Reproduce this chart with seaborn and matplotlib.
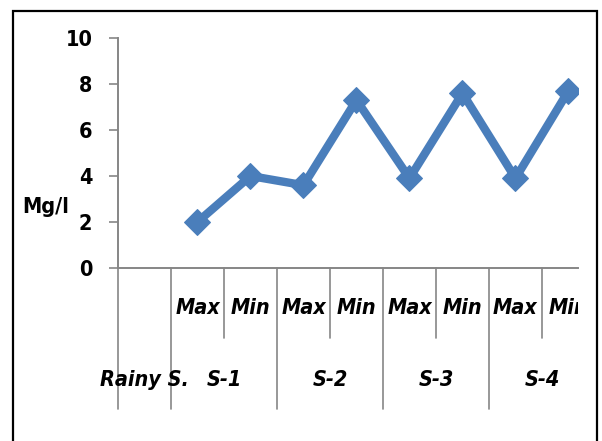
import numpy as np
import pandas as pd
import matplotlib
matplotlib.use("Agg")
import matplotlib.pyplot as plt
from matplotlib.patches import Rectangle
import seaborn as sns

# data
sub_labels = ["", "Max", "Min", "Max", "Min", "Max", "Min", "Max", "Min"]
group_labels = ["Rainy S.", "S-1", "S-2", "S-3", "S-4"]
group_spans = [(0, 0), (1, 2), (3, 4), (5, 6), (7, 8)]
values = [np.nan, 2.0, 4.0, 3.6, 7.3, 3.9, 7.6, 3.9, 7.7]

df = pd.DataFrame({"pos": np.arange(len(sub_labels)), "value": values})

sns.set_style("white")
plt.rcParams["font.family"] = ["Liberation Sans Narrow", "DejaVu Sans"]
plt.rcParams["font.stretch"] = "condensed"
plt.rcParams["text.color"] = "black"
plt.rcParams["ytick.labelcolor"] = "black"

fig = plt.figure(figsize=(6.02, 4.41), dpi=100)
ax = fig.add_axes([118 / 602, 1 - 268 / 441, 460 / 602, 230 / 441])

blue = "#4a7ebb"
grey = "#868686"
fs = 15.5

sns.lineplot(data=df, x="pos", y="value", ax=ax, color=blue, linewidth=6,
             marker="D", markersize=13.5, markeredgecolor=blue)

ax.set_xlim(-0.5, 8.18)
ax.set_ylim(0, 10)
ax.set_yticks([0, 2, 4, 6, 8, 10])
ax.set_xticks([])
ax.set_xlabel("")
ax.set_ylabel("")
ax.tick_params(axis="y", length=6.5, width=1.2, color=grey, pad=12,
               labelsize=fs, labelcolor="black", left=True)
for t in ax.get_yticklabels():
    t.set_fontweight("bold")

for side in ["top", "right"]:
    ax.spines[side].set_visible(False)
for side in ["left", "bottom"]:
    ax.spines[side].set_color(grey)
    ax.spines[side].set_linewidth(1.4)

# multi-level category axis
trans = ax.get_xaxis_transform()
clip = Rectangle((0, -1), 1, 2, transform=ax.transAxes, visible=False)
ax.add_patch(clip)
for i, lab in enumerate(sub_labels):
    if lab:
        t = ax.text(i, -0.174, lab, transform=trans, ha="center", va="center",
                    fontsize=fs, fontweight="bold", fontstyle="italic",
                    color="black", clip_on=True)
        t.set_clip_path(clip)
for lab, (a, b) in zip(group_labels, group_spans):
    ax.text((a + b) / 2, -0.487, lab, transform=trans, ha="center", va="center",
            fontsize=fs, fontweight="bold", fontstyle="italic", color="black")

long_seps = [-0.5, 0.5, 2.5, 4.5, 6.5]
short_seps = [1.5, 3.5, 5.5, 7.5]
for x in long_seps:
    ax.plot([x, x], [0, -0.613], transform=trans, color=grey, lw=1.2, clip_on=False)
for x in short_seps:
    ax.plot([x, x], [0, -0.304], transform=trans, color=grey, lw=1.2, clip_on=False)

fig.text(22 / 602, 1 - 213 / 441, "Mg/l", fontsize=fs, fontweight="bold",
         ha="left", va="baseline", color="black")

fig.patches.append(Rectangle((13 / 602, -0.1), 584 / 602, 1.1 - 11 / 441,
                             transform=fig.transFigure, fill=False,
                             edgecolor="black", linewidth=1.6))

fig.savefig("out.png", dpi=100)
